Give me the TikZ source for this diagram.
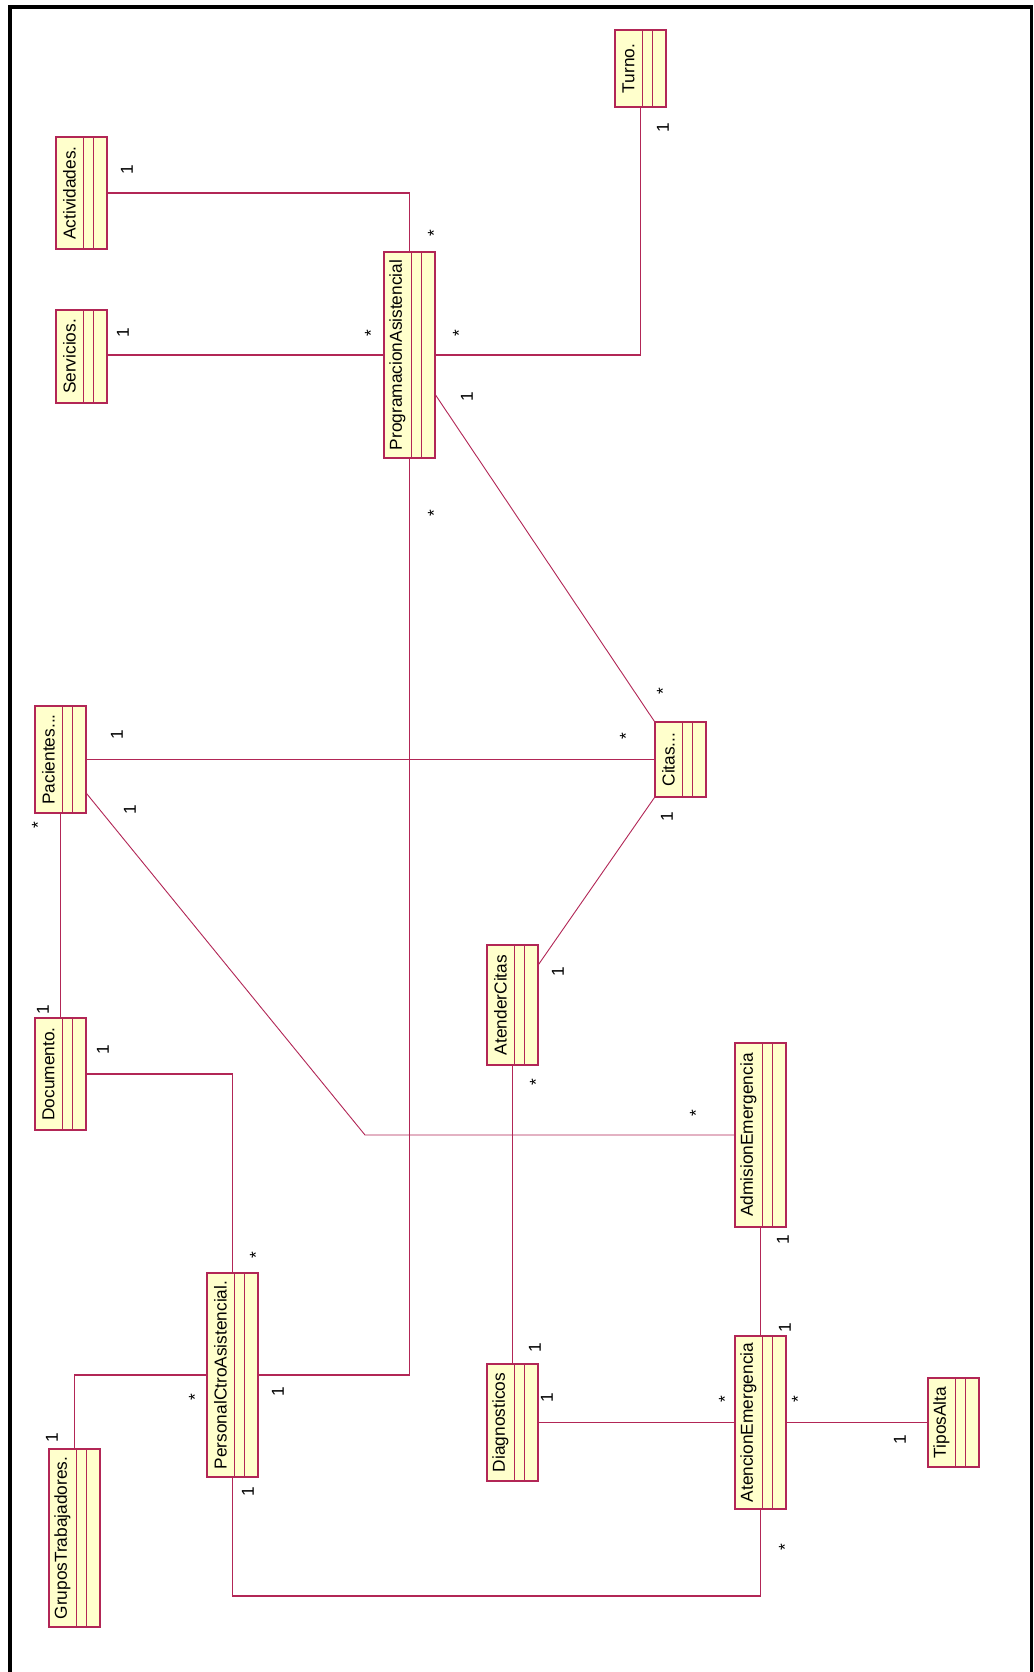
\documentclass[tikz,border=0pt]{standalone}
\usepackage{fontspec}
\setmainfont{Liberation Sans}
\definecolor{rline}{RGB}{178,38,86}
\definecolor{rfill}{RGB}{255,255,204}
\tikzset{
  clsbox/.style={draw=rline, fill=rfill, line width=1.1pt, minimum width=51pt, inner sep=0pt},
  clstext/.style={rotate=90, inner sep=0pt, font=\fontsize{17.3}{20}\selectfont},
  assoc/.style={draw=rline, line width=1.1pt},
  lbl/.style={rotate=90, inner sep=0pt, font=\fontsize{17.3}{20}\selectfont},
  frameline/.style={draw=black, line width=4pt}
}
\newcommand\umlcls[4]{%
  \node[clsbox, minimum height=#3pt] (#1) at (#2) {};
  \draw[rline, line width=1.1pt] ([xshift=28pt]#1.north west) -- ([xshift=28pt]#1.south west)
    ([xshift=38pt]#1.north west) -- ([xshift=38pt]#1.south west);
  \node[clstext] (#1-name) at ([xshift=14pt]#1.west) {#4};
}
\begin{document}
\begin{tikzpicture}[x=1pt, y=-1pt]
  \useasboundingbox[fill=white] (0,0) rectangle (1033,1672);
  % frame
  \draw[frameline] (10,1672) -- (10,7) -- (1033,7);
  \draw[draw=black, line width=3pt] (1031.5,7) -- (1031.5,1672);

  % classes
  \umlcls{act}{81.5,193}{112}{Actividades.}
  \umlcls{serv}{81.5,356.5}{93}{Servicios.}
  \umlcls{pa}{409.5,355}{206}{ProgramacionAsistencial}
  \umlcls{turno}{640.5,68.5}{77}{Turno.}
  \umlcls{citas}{680.5,759.5}{75}{Citas...}
  \umlcls{pac}{60.5,759.5}{107}{Pacientes...}
  \umlcls{doc}{60.5,1074}{112}{Documento.}
  \umlcls{pca}{232.5,1375}{204}{PersonalCtroAsistencial.}
  \umlcls{atc}{512.5,1005}{120}{AtenderCitas}
  \umlcls{ae}{760.5,1135}{184}{AdmisionEmergencia}
  \umlcls{gt}{74.5,1538}{178}{GruposTrabajadores.}
  \umlcls{diag}{512.5,1422.5}{117}{Diagnosticos}
  \umlcls{ate}{760.5,1422.5}{173}{AtencionEmergencia}
  \umlcls{ta}{953.5,1422.5}{89}{TiposAlta}

  \coordinate (lowline) at (0,1596);
  \coordinate (bendpac) at (365,1135);

  % associations
  \draw[assoc] (act.east) -- (act.east -| pa.north) -- (pa.north);
  \draw[assoc] (pa.west -| serv.east) -- (pa.west);
  \draw[assoc] (pa.east) -- (pa.east -| turno.south) -- (turno.south);
  \draw[assoc, line width=0.9pt] ([yshift=-40pt]pa.east) -- (citas.north west);
  \draw[assoc] (pac.east) -- (citas.west);
  \draw[assoc] (pa.south) -- (pa.south |- pca.east) -- (pca.east);
  \draw[assoc, line width=0.9pt] (citas.south west) -- ([yshift=-20pt]atc.north east);
  \draw[assoc] (pac.south) -- (doc.north);
  \draw[assoc, line width=0.9pt] ([yshift=-34pt]pac.east) -- (bendpac) -- (ae.west);
  \draw[assoc] (doc.east) -- (doc.east -| pca.north) -- (pca.north);
  \draw[assoc] (atc.south) -- (diag.north);
  \draw[assoc] (ae.south) -- (ate.north);
  \draw[assoc] (gt.north) -- (gt.north |- pca.west) -- (pca.west);
  \draw[assoc] (pca.south) -- (pca.south |- lowline) -- (ate.south |- lowline) -- (ate.south);
  \draw[assoc] (diag.east) -- (ate.west);
  \draw[assoc] (ate.east) -- (ta.west);

  % multiplicities
  \node[lbl] (m1) at (127,170) {1};
  \node[lbl] (m2) at (434,233) {*};
  \node[lbl] (m3) at (123,333) {1};
  \node[lbl] (m4) at (371,333) {*};
  \node[lbl] (m5) at (459,333) {*};
  \node[lbl] (m6) at (467,397) {1};
  \node[lbl] (m7) at (663,128) {1};
  \node[lbl] (m8) at (434,513) {*};
  \node[lbl] (m9) at (117,735) {1};
  \node[lbl] (m10) at (130,810) {1};
  \node[lbl] (m11) at (38,825) {*};
  \node[lbl] (m12) at (663,691) {*};
  \node[lbl] (m13) at (626,736) {*};
  \node[lbl] (m14) at (667,817) {1};
  \node[lbl] (m15) at (43,1010) {1};
  \node[lbl] (m16) at (103,1050) {1};
  \node[lbl] (m17) at (256,1255) {*};
  \node[lbl] (m18) at (558,972) {1};
  \node[lbl] (m19) at (536,1082) {*};
  \node[lbl] (m20) at (696,1113) {*};
  \node[lbl] (m21) at (783,1240) {1};
  \node[lbl] (m22) at (52,1438) {1};
  \node[lbl] (m23) at (195,1397) {*};
  \node[lbl] (m24) at (278,1392) {1};
  \node[lbl] (m25) at (248,1492) {1};
  \node[lbl] (m26) at (535,1348) {1};
  \node[lbl] (m27) at (547,1398) {1};
  \node[lbl] (m28) at (725,1399) {*};
  \node[lbl] (m29) at (785,1328) {1};
  \node[lbl] (m30) at (798,1399) {*};
  \node[lbl] (m31) at (900,1440) {1};
  \node[lbl] (m32) at (785,1547) {*};
\end{tikzpicture}
\end{document}
